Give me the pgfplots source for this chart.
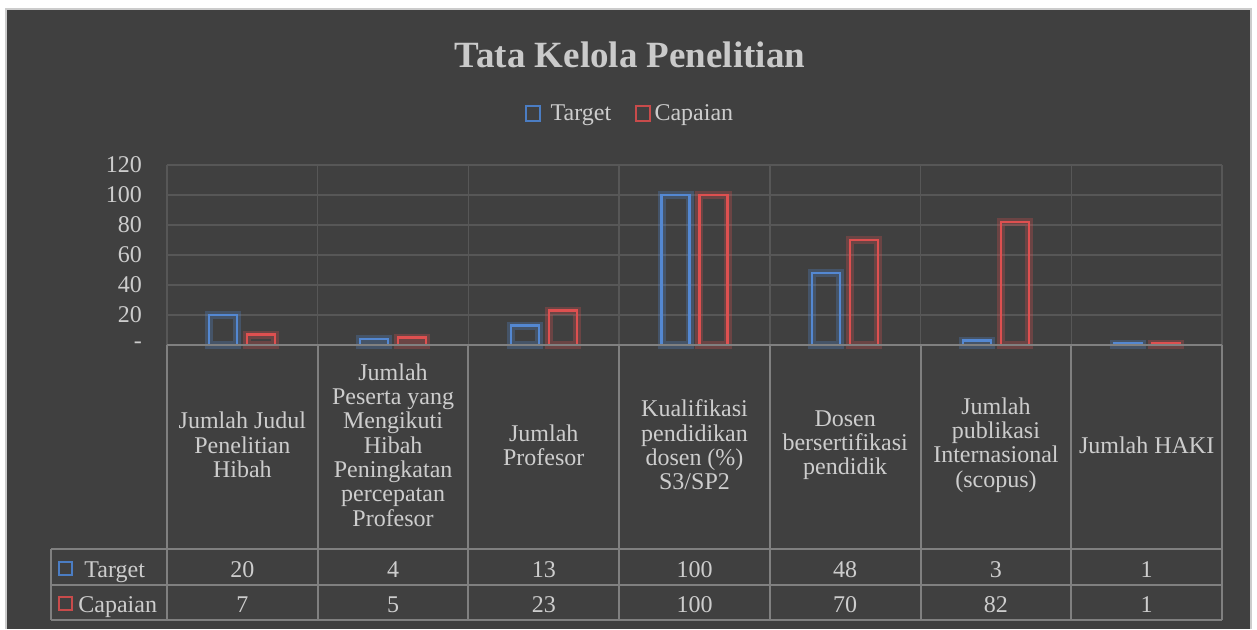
\documentclass[border=0pt]{standalone}
\usepackage{fontspec}
\setmainfont{Liberation Serif}
\usepackage{pgfplots}
\pgfplotsset{compat=1.18}
\definecolor{bg}{HTML}{404040}
\definecolor{gridc}{HTML}{575757}
\definecolor{tabc}{HTML}{808080}
\definecolor{txt}{HTML}{CDCDCD}
\definecolor{tgt}{RGB}{84,136,210}
\definecolor{cap}{RGB}{222,80,80}
\definecolor{tgtk}{RGB}{75,125,195}
\definecolor{capk}{RGB}{200,75,75}
\newcommand{\bodyfont}{\fontsize{12}{12.15}\selectfont}

\begin{document}
\begin{tikzpicture}
\begin{scope}[x=0.5pt,y=-0.5pt]
  \fill[white] (0,0) rectangle (1257,629);
  \fill[bg] (6,9) rectangle (1251,629);
  \draw[gray!40, line width=1pt] (6,629) -- (6,9) -- (1251,9) -- (1251,629);
  \node[txt!105, font=\bfseries\fontsize{18.5}{20}\selectfont] at (630,55) {Tata Kelola Penelitian};
\end{scope}

\begin{axis}[
  at={(83.5pt,-172.5pt)}, anchor=south west,
  scale only axis, width=527.5pt, height=90pt,
  xmin=0.5, xmax=7.5, ymin=0, ymax=120,
  ytick={0,20,...,120},
  yticklabels={-,20,40,60,80,100,120},
  xtick={0.5,1.5,...,7.5}, xticklabels={},
  xmajorgrids, ymajorgrids,
  grid style={gridc, line width=0.75pt},
  axis line style={draw=none},
  major tick length=0pt,
  tick label style={txt, font=\bodyfont},
  yticklabel style={xshift=-9pt},
  /pgf/number format/assume math mode=true,
  clip=false,
  legend style={at={(0.44,1.283)}, anchor=center, draw=none, fill=none,
    text=txt, font=\bodyfont, legend columns=2,
    /tikz/every even column/.append style={column sep=10pt}},
  legend cell align=left,
]
  % glow
  \addplot[ybar, forget plot, bar width=0.186, bar shift=-0.126, draw=tgt, draw opacity=0.28, line width=4pt, fill=none]
    coordinates {(1,20)(2,4)(3,13)(4,100)(5,48)(6,3)(7,1)};
  \addplot[ybar, forget plot, bar width=0.186, bar shift=0.126, draw=cap, draw opacity=0.28, line width=4pt, fill=none]
    coordinates {(1,7)(2,5)(3,23)(4,100)(5,70)(6,82)(7,1)};
  % bars
  \addplot[ybar, bar width=0.186, bar shift=-0.126, draw=tgt, line width=1.1pt, fill=none,
    legend image code/.code={\draw[tgtk, line width=0.9pt] (0pt,-3.3pt) rectangle (6.8pt,4.0pt);}]
    coordinates {(1,20)(2,4)(3,13)(4,100)(5,48)(6,3)(7,1)};
  \addplot[ybar, bar width=0.186, bar shift=0.126, draw=cap, line width=1.1pt, fill=none,
    legend image code/.code={\draw[capk, line width=0.9pt] (0pt,-3.3pt) rectangle (6.8pt,4.0pt);}]
    coordinates {(1,7)(2,5)(3,23)(4,100)(5,70)(6,82)(7,1)};
  \legend{\ Target,Capaian}
\end{axis}

\begin{scope}[x=0.5pt,y=-0.5pt]
  % data table
  \draw[tabc, line width=1pt] (167,345) -- (1222,345);
  \foreach \yy in {549,585,620} \draw[tabc, line width=1pt] (51,\yy) -- (1222,\yy);
  \draw[tabc, line width=1pt] (51,549) -- (51,620);
  \foreach \k in {0,...,7} \draw[tabc, line width=1pt] ({167+\k*150.714},345) -- ({167+\k*150.714},620);
  % category labels
  \foreach \k/\lab in {
      1/{Jumlah Judul\\Penelitian\\Hibah},
      2/{Jumlah\\Peserta yang\\Mengikuti\\Hibah\\Peningkatan\\percepatan\\Profesor},
      3/{Jumlah\\Profesor},
      4/{Kualifikasi\\pendidikan\\dosen (\%)\\S3/SP2},
      5/{Dosen\\bersertifikasi\\pendidik},
      6/{Jumlah\\publikasi\\Internasional\\(scopus)},
      7/{Jumlah HAKI}}
    \node[txt, font=\bodyfont, align=center] at ({167+(\k-0.5)*150.714},445) {\lab};
  % values
  \foreach \k/\t/\c in {1/20/7, 2/4/5, 3/13/23, 4/100/100, 5/48/70, 6/3/82, 7/1/1} {
    \node[txt, font=\bodyfont, anchor=base, inner sep=0pt] at ({167+(\k-0.5)*150.714},577) {\t};
    \node[txt, font=\bodyfont, anchor=base, inner sep=0pt] at ({167+(\k-0.5)*150.714},612) {\c};
  }
  % row keys
  \draw[tgtk, line width=0.8pt] (59,562) rectangle (72,575);
  \node[txt, font=\bodyfont, anchor=base west, inner sep=0pt] at (84,577) {Target};
  \draw[capk, line width=0.8pt] (59,597) rectangle (72,610);
  \node[txt, font=\bodyfont, anchor=base west, inner sep=0pt] at (78,612) {Capaian};
  \pgfresetboundingbox
  \path[use as bounding box] (0,0) rectangle (1257,629);
\end{scope}
\end{tikzpicture}
\end{document}
